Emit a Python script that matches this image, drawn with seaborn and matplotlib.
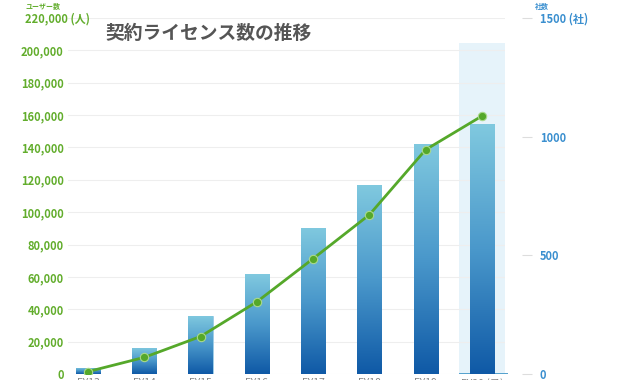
import numpy as np
import pandas as pd
import matplotlib
matplotlib.use("Agg")
import matplotlib.pyplot as plt
from matplotlib.colors import LinearSegmentedColormap
import seaborn as sns

# data
years = ["FY13", "FY14", "FY15", "FY16", "FY17", "FY18", "FY19", "FY20 (予)"]
users = [3900, 16300, 35900, 61500, 90400, 116600, 142400, 154400]
companies = [10, 70, 158, 304, 486, 671, 945, 1087]
user_ticks = list(range(0, 220001, 20000))
company_ticks = [0, 500, 1000, 1500]
company_tick_labels = ["0", "500", "1000", "1500 (社)"]

GREEN = "#62ad2c"
BLUE = "#3a8fcf"

sns.set_theme(style="white")
plt.rcParams["font.family"] = ["Noto Sans CJK JP", "DejaVu Sans"]

df = pd.DataFrame({"year": years, "users": users, "companies": companies})

fig = plt.figure(figsize=(6.2, 3.8), dpi=100)
ax = fig.add_axes([68 / 620, 6 / 380, (505 - 68) / 620, (374 - 18) / 380])

# highlight band for the forecast year
ax.axvspan(6.59, 7.45, ymin=0, ymax=(374 - 43) / (374 - 18), color="#e6f3fa", zorder=0, lw=0)

sns.barplot(data=df, x="year", y="users", ax=ax, width=0.43, color="#3b8cc8",
            edgecolor="#9fd0ea", linewidth=0.6, zorder=2)

# gradient fill inside each bar
cmap = LinearSegmentedColormap.from_list("bar", ["#0f59a6", "#4a98cb", "#80c9df"])
grad = np.linspace(0, 1, 256).reshape(-1, 1)
for p in ax.patches:
    x0, y0 = p.get_x(), p.get_y()
    w, h = p.get_width(), p.get_height()
    im = ax.imshow(grad, cmap=cmap, origin="lower", aspect="auto",
                   extent=[x0, x0 + w, y0, y0 + h], zorder=2.5)
    im.set_clip_path(p)

ax.set_xlim(-0.355, 7.41)
ax.set_ylim(0, 220000)
ax.set_yticks(user_ticks)
ax.set_yticklabels([f"{v:,}" for v in user_ticks[:-1]] + [""])
ax.yaxis.grid(True, color="#eeeeee", lw=0.8, zorder=0)
ax.set_axisbelow(True)
ax.tick_params(axis="y", length=0, pad=3, labelsize=8, labelcolor=GREEN)
for t in ax.get_yticklabels():
    t.set_fontweight("bold")
ax.tick_params(axis="x", length=0, pad=3, labelsize=7.5, labelcolor="#888888")
ax.set_xlabel("")
ax.set_ylabel("")
for s in ax.spines.values():
    s.set_visible(False)

ax2 = ax.twinx()
sns.lineplot(data=df, x="year", y="companies", ax=ax2, color="#55a82a", lw=2,
             marker="o", markersize=6, markeredgecolor="#a9d98c", markeredgewidth=0.8,
             zorder=5)
ax2.set_ylim(0, 1500 * (374 - 18) / 357)
ax2.set_yticks(company_ticks)
ax2.set_yticklabels(company_tick_labels)
ax2.set_ylabel("")
ax2.set_xlim(-0.355, 7.41)
for s in ax2.spines.values():
    s.set_visible(False)
ax2.spines["right"].set_position(("outward", 12))
ax2.tick_params(axis="y", right=True, direction="out", length=7, width=0.8,
                color="#dddddd", pad=6, labelsize=8, labelcolor=BLUE)
for t in ax2.get_yticklabels():
    t.set_fontweight("bold")

# axis captions and title
fig.text(25 / 620, 1 - 6 / 380, "ユーザー数", fontsize=5, color=GREEN,
         fontweight="bold", va="center", ha="left")
fig.text(25 / 620, 1 - 18.5 / 380, "220,000 (人)", fontsize=8, color=GREEN,
         fontweight="bold", va="center", ha="left")
fig.text(535 / 620, 1 - 6 / 380, "社数", fontsize=5, color=BLUE,
         fontweight="bold", va="center", ha="left")
fig.text(105 / 620, 1 - 33 / 380, "契約ライセンス数の推移", fontsize=13.5,
         color="#555555", fontweight="bold", va="center", ha="left")

fig.savefig("out.png", dpi=100)
